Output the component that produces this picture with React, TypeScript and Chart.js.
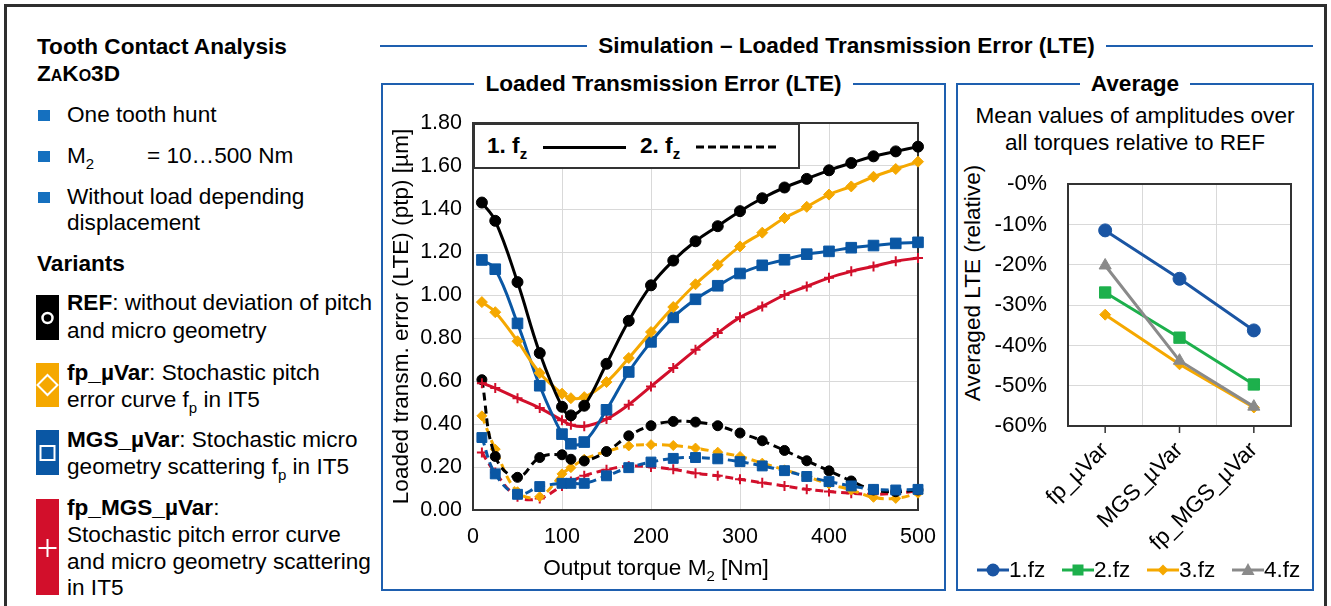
import React, { useEffect, useRef } from "react";
import { Chart, registerables } from "chart.js";
Chart.register(...registerables);

const FONT = "'Liberation Sans', Arial, Helvetica, sans-serif";
const FS = 22.6;

// ---------- main chart data ----------
const torque = [10, 25, 50, 75, 100, 110, 125, 150, 175, 200, 225, 250, 275, 300, 325, 350, 375, 400, 425, 450, 475, 500];

const refFz1 = [1.43, 1.345, 1.06, 0.73, 0.48, 0.44, 0.485, 0.68, 0.88, 1.045, 1.16, 1.25, 1.32, 1.39, 1.45, 1.5, 1.54, 1.58, 1.614, 1.645, 1.668, 1.69];
const fpFz1 = [0.967, 0.92, 0.785, 0.637, 0.541, 0.52, 0.525, 0.595, 0.707, 0.828, 0.944, 1.05, 1.14, 1.226, 1.29, 1.358, 1.41, 1.467, 1.505, 1.55, 1.586, 1.62];
const mgsFz1 = [1.163, 1.12, 0.868, 0.578, 0.353, 0.308, 0.316, 0.466, 0.642, 0.782, 0.896, 0.98, 1.043, 1.1, 1.138, 1.164, 1.19, 1.203, 1.22, 1.23, 1.24, 1.245];
const fpMgsFz1 = [0.59, 0.567, 0.52, 0.474, 0.417, 0.396, 0.389, 0.423, 0.49, 0.575, 0.66, 0.745, 0.823, 0.896, 0.947, 1.0, 1.04, 1.08, 1.11, 1.133, 1.157, 1.172];

const refFz2 = [0.606, 0.249, 0.152, 0.244, 0.257, 0.236, 0.228, 0.272, 0.345, 0.392, 0.412, 0.409, 0.392, 0.358, 0.322, 0.277, 0.229, 0.182, 0.135, 0.093, 0.085, 0.093];
const fpFz2 = [0.438, 0.283, 0.085, 0.062, 0.168, 0.197, 0.236, 0.272, 0.298, 0.304, 0.3, 0.288, 0.269, 0.249, 0.218, 0.187, 0.156, 0.121, 0.093, 0.059, 0.054, 0.078];
const mgsFz2 = [0.337, 0.168, 0.073, 0.109, 0.124, 0.124, 0.124, 0.159, 0.197, 0.223, 0.24, 0.244, 0.238, 0.225, 0.205, 0.183, 0.156, 0.132, 0.112, 0.096, 0.093, 0.096];
const fpMgsFz2 = [0.267, 0.174, 0.062, 0.054, 0.112, 0.132, 0.159, 0.187, 0.204, 0.2, 0.189, 0.171, 0.159, 0.143, 0.127, 0.112, 0.096, 0.086, 0.078, 0.073, 0.078, 0.089];

// ---------- average chart data ----------
const variants = ["fp_\u00b5Var", "MGS_\u00b5Var", "fp_MGS_\u00b5Var"];
const avgFz1 = [-11.5, -23.5, -36.3];
const avgFz2 = [-26.9, -38.1, -49.7];
const avgFz3 = [-32.4, -44.7, -55.4];
const avgFz4 = [-20.2, -43.8, -55.2];

const C_BLACK = "#000000";
const C_ORANGE = "#F5A800";
const C_BLUE = "#0A57A4";
const C_RED = "#D20F2B";
const C_PANEL = "#1E5FAF";
const C_BULLET = "#1570BF";
const A_BLUE = "#1A55A3";
const A_GREEN = "#1DB04C";
const A_ORANGE = "#F5A800";
const A_GRAY = "#8A8A8A";

const plotBox = {
  id: "plotBox",
  beforeDatasetsDraw(chart: any) {
    const { ctx, chartArea: a } = chart;
    ctx.save();
    ctx.strokeStyle = "#333";
    ctx.lineWidth = 2;
    ctx.strokeRect(a.left, a.top, a.right - a.left, a.bottom - a.top);
    ctx.restore();
  },
};

const catTicks = {
  id: "catTicks",
  afterDraw(chart: any) {
    const { ctx, chartArea: a } = chart;
    const xs = chart.scales.x;
    ctx.save();
    ctx.strokeStyle = "#333";
    ctx.lineWidth = 1.5;
    ctx.beginPath();
    for (let i = 0; i < variants.length; i++) {
      const px = xs.getPixelForValue(i);
      ctx.moveTo(px, a.bottom);
      ctx.lineTo(px, a.bottom + 7);
    }
    ctx.stroke();
    ctx.restore();
  },
};

const noPad = (s: any) => {
  s.paddingLeft = 0;
  s.paddingRight = 0;
  s.paddingTop = 0;
  s.paddingBottom = 0;
};

function mainDs(label: string, values: number[], color: string, style: string, radius: number, dashed: boolean) {
  return {
    label,
    data: torque.map((t, i) => ({ x: t, y: values[i] })),
    borderColor: color,
    backgroundColor: color,
    pointBackgroundColor: color,
    pointBorderColor: color,
    pointStyle: style,
    pointRadius: radius,
    pointBorderWidth: style === "cross" ? 2 : 1,
    borderWidth: 3,
    borderDash: dashed ? [8, 5] : [],
    tension: 0.4,
    clip: false,
  };
}

function avgDs(label: string, values: number[], color: string, style: string, radius: number) {
  return {
    label,
    data: values,
    borderColor: color,
    backgroundColor: color,
    pointBackgroundColor: color,
    pointBorderColor: color,
    pointStyle: style,
    pointRadius: radius,
    pointBorderWidth: 1,
    borderWidth: 3,
    tension: 0,
    clip: false,
  };
}

function MainChart() {
  const ref = useRef<HTMLCanvasElement | null>(null);
  useEffect(() => {
    if (!ref.current) return;
    const tickFont = { family: FONT, size: 21.5 };
    const chart = new Chart(ref.current, {
      type: "line",
      data: {
        datasets: [
          mainDs("REF 1.fz", refFz1, C_BLACK, "circle", 5.5, false),
          mainDs("fp 1.fz", fpFz1, C_ORANGE, "rectRot", 5.5, false),
          mainDs("MGS 1.fz", mgsFz1, C_BLUE, "rect", 7.5, false),
          mainDs("fpMGS 1.fz", fpMgsFz1, C_RED, "cross", 5, false),
          mainDs("MGS 2.fz", mgsFz2, C_BLUE, "rect", 7, true),
          mainDs("REF 2.fz", refFz2, C_BLACK, "circle", 5, true),
          mainDs("fp 2.fz", fpFz2, C_ORANGE, "rectRot", 5, true),
          mainDs("fpMGS 2.fz", fpMgsFz2, C_RED, "cross", 5, true),
        ] as any,
      },
      options: {
        animation: false,
        responsive: false,
        maintainAspectRatio: false,
        layout: { padding: { top: 23, right: 20, left: 0, bottom: 0 } },
        plugins: { legend: { display: false }, tooltip: { enabled: false } },
        scales: {
          x: {
            type: "linear",
            min: 0,
            max: 500,
            ticks: { stepSize: 100, font: tickFont, color: "#000", padding: 14 },
            grid: { color: "#d9d9d9", lineWidth: 1, drawTicks: false },
            border: { display: false },
            afterFit: (s: any) => { s.height = 76; noPad(s); },
          },
          y: {
            min: 0,
            max: 1.8,
            ticks: { stepSize: 0.2, font: tickFont, color: "#000", padding: 11, callback: (v: any) => Number(v).toFixed(2) },
            grid: { color: "#d9d9d9", lineWidth: 1, drawTicks: false },
            border: { display: false },
            title: { display: true, text: "Loaded transm. error (LTE) (ptp) [\u00b5m]", font: { family: FONT, size: FS }, color: "#000", padding: { top: 6, bottom: 0 } },
            afterFit: (s: any) => { s.width = 91; noPad(s); },
          },
        },
      } as any,
      plugins: [plotBox],
    });
    return () => chart.destroy();
  }, []);
  return <canvas ref={ref} width={556} height={486} style={{ position: "absolute", left: 382, top: 100, width: 556, height: 486 }} />;
}

function AvgChart() {
  const ref = useRef<HTMLCanvasElement | null>(null);
  useEffect(() => {
    if (!ref.current) return;
    const tickFont = { family: FONT, size: 22.5 };
    const chart = new Chart(ref.current, {
      type: "line",
      data: {
        labels: variants,
        datasets: [
          avgDs("4.fz", avgFz4, A_GRAY, "triangle", 7),
          avgDs("3.fz", avgFz3, A_ORANGE, "rectRot", 5.5),
          avgDs("2.fz", avgFz2, A_GREEN, "rect", 8),
          avgDs("1.fz", avgFz1, A_BLUE, "circle", 6.5),
        ] as any,
      },
      options: {
        animation: false,
        responsive: false,
        maintainAspectRatio: false,
        layout: { padding: { top: 24, right: 19, left: 0, bottom: 0 } },
        plugins: { legend: { display: false }, tooltip: { enabled: false } },
        scales: {
          x: {
            type: "category",
            offset: true,
            ticks: { font: tickFont, color: "#000", padding: 11, maxRotation: 45, minRotation: 45, autoSkip: false },
            grid: { color: "#d9d9d9", lineWidth: 1, drawTicks: false, offset: true },
            border: { display: false },
            afterFit: (s: any) => { s.height = 129; noPad(s); },
          },
          y: {
            min: -60,
            max: 0,
            ticks: { stepSize: 10, font: tickFont, color: "#000", padding: 21, callback: (v: any) => (Number(v) === 0 ? "-0%" : `${v}%`) },
            grid: { color: "#d9d9d9", lineWidth: 1, drawTicks: false },
            border: { display: false },
            afterFit: (s: any) => { s.width = 110; noPad(s); },
          },
        },
      } as any,
      plugins: [plotBox, catTicks],
    });
    return () => chart.destroy();
  }, []);
  return <canvas ref={ref} width={352} height={395} style={{ position: "absolute", left: 958, top: 160, width: 352, height: 395 }} />;
}

function Txt({ x, y, bold, children }: { x: number; y: number; bold?: boolean; children: any }) {
  return (
    <div style={{ position: "absolute", left: x, top: y - 13, fontSize: FS, lineHeight: "26px", fontWeight: bold ? "bold" : "normal", whiteSpace: "nowrap", color: "#000" }}>
      {children}
    </div>
  );
}

const Sub = ({ children, bold }: { children: any; bold?: boolean }) => (
  <span style={{ fontSize: 15, position: "relative", top: 6, fontWeight: bold ? "bold" : "normal" }}>{children}</span>
);

function Bullet({ y }: { y: number }) {
  return <div style={{ position: "absolute", left: 38, top: y - 5, width: 12, height: 11, background: C_BULLET }} />;
}

function VariantBox({ top, height, color, marker, my }: { top: number; height: number; color: string; marker: string; my: number }) {
  const cx = 11.5;
  let m: any = null;
  if (marker === "circle") m = <circle cx={cx} cy={my} r={5} fill="none" stroke="#fff" strokeWidth={2.5} />;
  if (marker === "diamond") m = <polygon points={`${cx},${my - 10} ${cx + 10},${my} ${cx},${my + 10} ${cx - 10},${my}`} fill="none" stroke="#fff" strokeWidth={2} />;
  if (marker === "square") m = <rect x={cx - 7} y={my - 7} width={14} height={14} fill="none" stroke="#fff" strokeWidth={2} />;
  if (marker === "plus") m = (
    <g stroke="#fff" strokeWidth={2}>
      <line x1={cx - 9} y1={my} x2={cx + 9} y2={my} />
      <line x1={cx} y1={my - 9} x2={cx} y2={my + 9} />
    </g>
  );
  return (
    <svg style={{ position: "absolute", left: 36, top }} width={23} height={height}>
      <rect x={0} y={0} width={23} height={height} fill={color} />
      {m}
    </svg>
  );
}

function LegendItem({ x, color, marker, label }: { x: number; color: string; marker: string; label: string }) {
  const cy = 11;
  let m: any = null;
  if (marker === "circle") m = <circle cx={16} cy={cy} r={6.5} fill={color} />;
  if (marker === "square") m = <rect x={10.5} y={cy - 5.5} width={11} height={11} fill={color} />;
  if (marker === "diamond") m = <polygon points={`16,${cy - 5.5} 21.5,${cy} 16,${cy + 5.5} 10.5,${cy}`} fill={color} />;
  if (marker === "triangle") m = <polygon points={`16,${cy - 7} 22.5,${cy + 5} 9.5,${cy + 5}`} fill={color} />;
  return (
    <div style={{ position: "absolute", left: x, top: 570 - 13, height: 26, display: "flex", alignItems: "center", whiteSpace: "nowrap", fontSize: FS, lineHeight: "26px" }}>
      <svg width={32} height={22} style={{ display: "block" }}>
        <line x1={0} y1={cy} x2={32} y2={cy} stroke={color} strokeWidth={3} />
        {m}
      </svg>
      <span>{label}</span>
    </div>
  );
}

function Panel({ left, top, width, height, title }: { left: number; top: number; width: number; height: number; title: string }) {
  return (
    <div style={{ position: "absolute", left, top, width, height, boxSizing: "border-box", border: `2px solid ${C_PANEL}` }}>
      <div style={{ position: "absolute", left: 0, right: 0, top: -14, textAlign: "center", lineHeight: "26px" }}>
        <span style={{ background: "#fff", padding: "0 11px", fontWeight: "bold", fontSize: FS }}>{title}</span>
      </div>
    </div>
  );
}

export default function App() {
  return (
    <div style={{ position: "absolute", left: 0, top: 0, width: 1331, height: 606, overflow: "hidden", background: "#fff", fontFamily: FONT, color: "#000" }}>
      {/* outer frame */}
      <div style={{ position: "absolute", left: 4, top: 4, width: 1323, height: 700, boxSizing: "border-box", border: "3px solid #2e2e2e" }} />

      {/* left description panel */}
      <Txt x={37} y={47} bold>Tooth Contact Analysis</Txt>
      <Txt x={37} y={74} bold><span style={{ fontVariant: "small-caps" }}>ZaKo3D</span></Txt>
      <Bullet y={115} />
      <Txt x={67} y={115}>One tooth hunt</Txt>
      <Bullet y={156} />
      <Txt x={67} y={156}>M<Sub>2</Sub></Txt>
      <Txt x={147} y={156}>= 10…500 Nm</Txt>
      <Bullet y={197} />
      <Txt x={67} y={197}>Without load depending</Txt>
      <Txt x={67} y={223}>displacement</Txt>
      <Txt x={37} y={264} bold>Variants</Txt>

      <VariantBox top={295} height={45} color={C_BLACK} marker="circle" my={23} />
      <Txt x={67} y={303}><b>REF</b>: without deviation of pitch</Txt>
      <Txt x={67} y={331}>and micro geometry</Txt>

      <VariantBox top={363} height={44} color={C_ORANGE} marker="diamond" my={22} />
      <Txt x={67} y={373}><b>fp_µVar</b>: Stochastic pitch</Txt>
      <Txt x={67} y={400}>error curve f<Sub>p</Sub> in IT5</Txt>

      <VariantBox top={430} height={45} color={C_BLUE} marker="square" my={23} />
      <Txt x={67} y={440}><b>MGS_µVar</b>: Stochastic micro</Txt>
      <Txt x={67} y={467}>geometry scattering f<Sub>p</Sub> in IT5</Txt>

      <VariantBox top={499} height={96} color={C_RED} marker="plus" my={49} />
      <Txt x={67} y={508}><b>fp_MGS_µVar</b>:</Txt>
      <Txt x={67} y={535}>Stochastic pitch error curve</Txt>
      <Txt x={67} y={562}>and micro geometry scattering</Txt>
      <Txt x={67} y={588}>in IT5</Txt>

      {/* header */}
      <div style={{ position: "absolute", left: 380, top: 33, width: 933, height: 26, display: "flex", alignItems: "center" }}>
        <div style={{ flex: 1, height: 2, background: C_PANEL }} />
        <div style={{ margin: "0 11px", fontWeight: "bold", fontSize: FS, whiteSpace: "nowrap", lineHeight: "26px" }}>Simulation – Loaded Transmission Error (LTE)</div>
        <div style={{ flex: 1, height: 2, background: C_PANEL }} />
      </div>

      <Panel left={381} top={83} width={565} height={508} title="Loaded Transmission Error (LTE)" />
      <Panel left={956} top={83} width={358} height={508} title="Average" />

      <MainChart />

      {/* x axis title of main chart */}
      <div style={{ position: "absolute", left: 656, top: 569, width: 0, height: 0 }}>
        <div style={{ position: "absolute", left: 0, top: 0, transform: "translate(-50%, -50%)", fontSize: FS, lineHeight: "26px", whiteSpace: "nowrap" }}>
          Output torque M<Sub>2</Sub> [Nm]
        </div>
      </div>

      {/* in-plot line style legend */}
      <div style={{ position: "absolute", left: 473, top: 123, width: 327, height: 46, boxSizing: "border-box", border: "2px solid #333", background: "#fff" }}>
        <div style={{ position: "absolute", left: 12, top: 8, fontWeight: "bold", fontSize: FS, lineHeight: "26px", whiteSpace: "nowrap" }}>1. f<Sub bold>z</Sub></div>
        <div style={{ position: "absolute", left: 68, top: 21, width: 83, height: 3, background: "#000" }} />
        <div style={{ position: "absolute", left: 165, top: 8, fontWeight: "bold", fontSize: FS, lineHeight: "26px", whiteSpace: "nowrap" }}>2. f<Sub bold>z</Sub></div>
        <svg style={{ position: "absolute", left: 221, top: 18 }} width={82} height={8}>
          <line x1={0} y1={4} x2={82} y2={4} stroke="#000" strokeWidth={3} strokeDasharray="8 4" />
        </svg>
      </div>

      {/* average panel texts */}
      <div style={{ position: "absolute", left: 956, width: 358, top: 102, textAlign: "center", fontSize: FS, lineHeight: "27px" }}>
        Mean values of amplitudes over<br />all torques relative to REF
      </div>
      <div style={{ position: "absolute", left: 973, top: 283, width: 0, height: 0 }}>
        <div style={{ position: "absolute", left: 0, top: 0, transform: "translate(-50%, -50%) rotate(-90deg)", fontSize: FS, lineHeight: "26px", whiteSpace: "nowrap" }}>Averaged LTE (relative)</div>
      </div>
      <AvgChart />
      <LegendItem x={977} color={A_BLUE} marker="circle" label="1.fz" />
      <LegendItem x={1062} color={A_GREEN} marker="square" label="2.fz" />
      <LegendItem x={1147} color={A_ORANGE} marker="diamond" label="3.fz" />
      <LegendItem x={1232} color={A_GRAY} marker="triangle" label="4.fz" />
    </div>
  );
}
